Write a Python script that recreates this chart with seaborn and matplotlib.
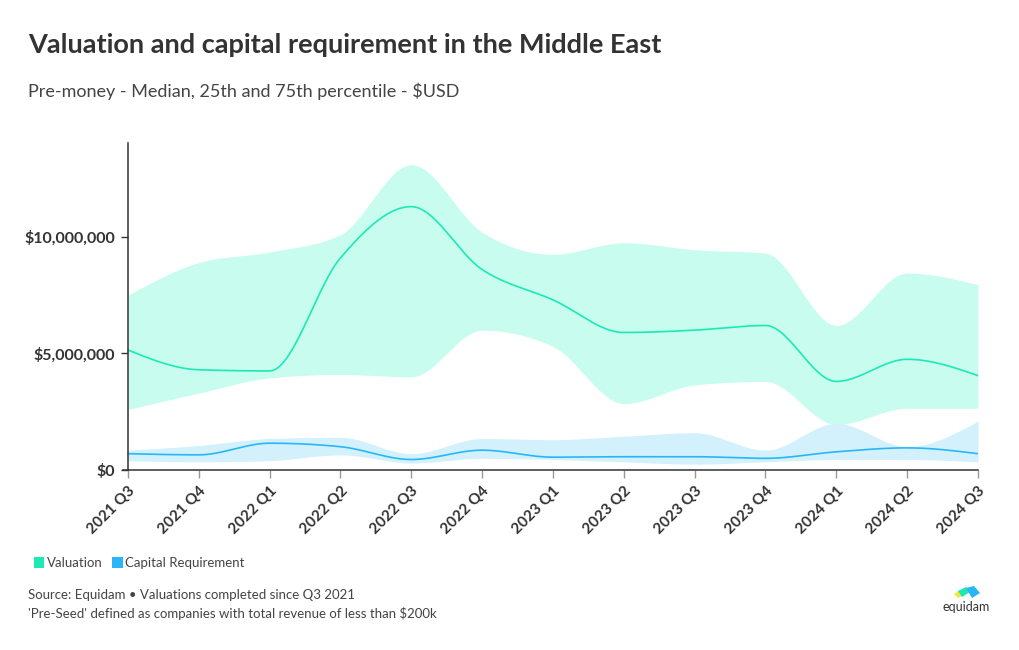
import numpy as np
import matplotlib
matplotlib.use("Agg")
import matplotlib.pyplot as plt
import seaborn as sns
from matplotlib.patches import Patch, Polygon
from matplotlib.ticker import FuncFormatter

quarters = ["2021 Q3", "2021 Q4", "2022 Q1", "2022 Q2", "2022 Q3", "2022 Q4", "2023 Q1",
            "2023 Q2", "2023 Q3", "2023 Q4", "2024 Q1", "2024 Q2", "2024 Q3"]

val_median = [5.15, 4.3, 4.25, 9.1, 11.3, 8.6, 7.3, 5.9, 6.0, 6.2, 3.8, 4.75, 4.05]
val_p75 = [7.5, 8.9, 9.35, 10.1, 13.1, 10.2, 9.25, 9.75, 9.45, 9.3, 6.2, 8.45, 7.95]
val_p25 = [2.6, 3.3, 3.95, 4.1, 4.0, 6.0, 5.3, 2.85, 3.65, 3.8, 1.95, 2.65, 2.65]

cap_median = [0.7, 0.65, 1.15, 1.0, 0.45, 0.85, 0.55, 0.57, 0.57, 0.5, 0.78, 0.95, 0.7]
cap_p75 = [0.85, 1.05, 1.35, 1.4, 0.7, 1.35, 1.3, 1.45, 1.6, 0.85, 2.0, 1.0, 2.1]
cap_p25 = [0.4, 0.35, 0.4, 0.65, 0.3, 0.5, 0.45, 0.35, 0.25, 0.35, 0.45, 0.45, 0.35]


def monotone(y, steps=30):
    # monotone cubic (Fritsch-Carlson), like d3.curveMonotoneX
    y = np.asarray(y, float) * 1e6
    x = np.arange(len(y), dtype=float)
    d = np.diff(y)
    m = np.zeros_like(y)
    for i in range(1, len(y) - 1):
        s0, s1 = d[i - 1], d[i]
        p = (s0 + s1) / 2
        m[i] = (np.sign(s0) + np.sign(s1)) * min(abs(s0), abs(s1), 0.5 * abs(p))
    m[0] = (3 * d[0] - m[1]) / 2
    m[-1] = (3 * d[-1] - m[-2]) / 2
    xs, ys = [], []
    for i in range(len(y) - 1):
        t = np.linspace(0, 1, steps, endpoint=False)
        h00 = 2 * t**3 - 3 * t**2 + 1
        h10 = t**3 - 2 * t**2 + t
        h01 = -2 * t**3 + 3 * t**2
        h11 = t**3 - t**2
        xs.append(x[i] + t)
        ys.append(h00 * y[i] + h10 * m[i] + h01 * y[i + 1] + h11 * m[i + 1])
    xs.append([x[-1]])
    ys.append([y[-1]])
    return np.concatenate(xs), np.concatenate(ys)


sns.set_theme(style="white")
plt.rcParams["font.family"] = ["Lato", "DejaVu Sans"]

fig = plt.figure(figsize=(10.2, 6.5), dpi=100)
ax = fig.add_axes([123 / 1020, 1 - 470 / 650, 855 / 1020, 327 / 650])

val_color = "#1de9b6"
cap_color = "#29b6f6"

x, lo = monotone(val_p25)
_, hi = monotone(val_p75)
ax.fill_between(x, lo, hi, color="#c7fcee", lw=0)
x, med = monotone(val_median)
sns.lineplot(x=x, y=med, ax=ax, color=val_color, lw=1.2)

x, lo = monotone(cap_p25)
_, hi = monotone(cap_p75)
ax.fill_between(x, lo, hi, color="#d2f1fc", lw=0)
x, med = monotone(cap_median)
sns.lineplot(x=x, y=med, ax=ax, color=cap_color, lw=1.2)

ax.set_xlim(-0.07, 12)
ax.set_ylim(0, 14.03e6)
ax.spines["left"].set_position(("data", 0))
for s in ["top", "right"]:
    ax.spines[s].set_visible(False)
for s in ["left", "bottom"]:
    ax.spines[s].set_color("#333333")
    ax.spines[s].set_linewidth(1.1)

ax.set_xticks(range(len(quarters)))
ax.set_xticklabels(quarters, rotation=45, ha="right", rotation_mode="anchor",
                   fontsize=11, fontweight="bold", color="#333333")
ax.set_yticks([0, 5e6, 10e6])
ax.yaxis.set_major_formatter(FuncFormatter(lambda v, p: f"${v:,.0f}"))
for lab in ax.get_yticklabels():
    lab.set_fontweight("bold")
ax.tick_params(axis="y", length=5, width=1, color="#333333", labelsize=11.5,
               labelcolor="#333333", pad=4, left=True)
ax.tick_params(axis="x", length=6, width=1, color="#999999", pad=4, bottom=True)
ax.set_xlabel("")
ax.set_ylabel("")

fig.text(28 / 1020, 1 - 45 / 650, "Valuation and capital requirement in the Middle East",
         fontsize=19.5, fontweight="bold", color="#333333", va="center")
fig.text(28 / 1020, 1 - 91 / 650, "Pre-money - Median, 25th and 75th percentile - $USD",
         fontsize=13, color="#444444", va="center")

handles = [Patch(facecolor=val_color, edgecolor="none", label="Valuation"),
           Patch(facecolor=cap_color, edgecolor="none", label="Capital Requirement")]
fig.legend(handles=handles, loc="center left", bbox_to_anchor=(22 / 1020, 1 - 563 / 650),
           ncol=2, frameon=False, fontsize=9.5, handlelength=0.8, handleheight=0.9,
           handletextpad=0.2, columnspacing=0.7, labelcolor="#444444")

fig.text(28 / 1020, 1 - 595 / 650, "Source: Equidam \u2022 Valuations completed since Q3 2021",
         fontsize=9.5, color="#444444", va="center")
fig.text(28 / 1020, 1 - 613 / 650, "'Pre-Seed' defined as companies with total revenue of less than $200k",
         fontsize=9.5, color="#444444", va="center")

# small logo
fig.text(966 / 1020, 1 - 607 / 650, "equidam", fontsize=9, color="#333333",
         ha="center", va="center")
logo = [
    ([(954, 594), (960, 590), (964, 595), (958, 598)], "#f5e63a"),
    ([(958, 591), (966, 587), (970, 592), (962, 597)], "#1de9b6"),
    ([(966, 588), (974, 586), (980, 593), (972, 598)], "#29b6f6"),
]
for pts, c in logo:
    fig.patches.append(Polygon([(px / 1020, 1 - py / 650) for px, py in pts], closed=True,
                               transform=fig.transFigure, facecolor=c, edgecolor="none"))

fig.savefig("out.png", dpi=100)
